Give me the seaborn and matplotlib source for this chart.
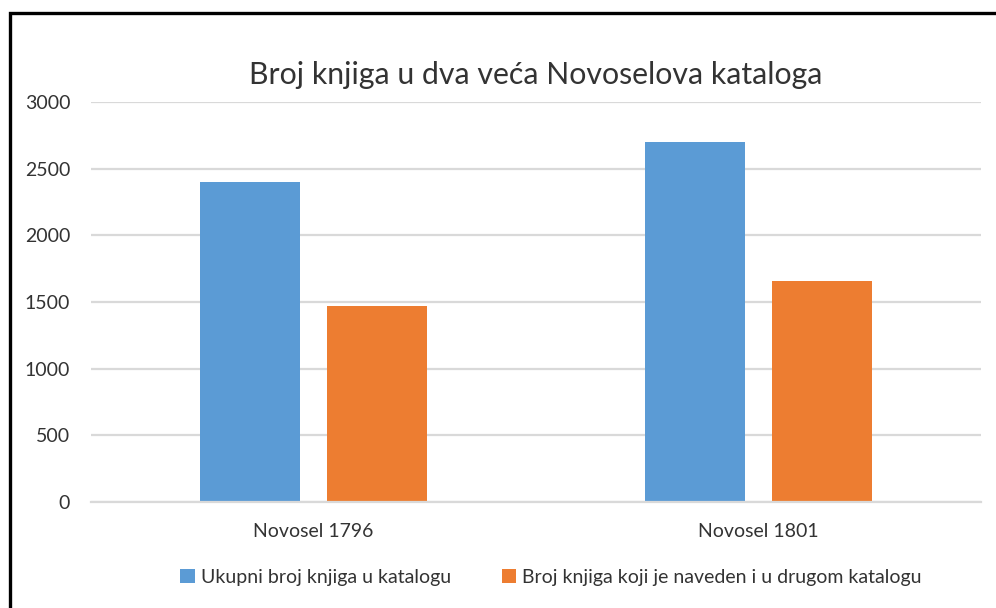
import numpy as np
import pandas as pd
import matplotlib
matplotlib.use('Agg')
import matplotlib.pyplot as plt
from matplotlib.patches import Rectangle
import seaborn as sns

# data
katalozi = ['Novosel 1796', 'Novosel 1801']
serije = ['Ukupni broj knjiga u katalogu', 'Broj knjiga koji je naveden i u drugom katalogu']
ukupno = [2400, 2700]
u_drugom = [1470, 1660]
boje = ['#5B9BD5', '#ED7D31']

df = pd.DataFrame({
    'katalog': katalozi * 2,
    'serija': [serije[0]] * 2 + [serije[1]] * 2,
    'broj': ukupno + u_drugom,
})

sns.set_style('white')
plt.rcParams['font.family'] = ['Lato', 'DejaVu Sans']
txt = '#333333'

fig = plt.figure(figsize=(9.96, 6.08), dpi=100)
ax = fig.add_axes([91 / 996, 1 - 502 / 608, 890 / 996, 400 / 608])

sns.barplot(data=df, x='katalog', y='broj', hue='serija', hue_order=serije,
            palette=boje, saturation=1, width=0.568, gap=0.21, linewidth=0,
            ax=ax, legend=True)

ax.set_ylim(0, 3000)
ax.set_xlim(-0.5, 1.5)
ax.set_yticks(np.arange(0, 3001, 500))
ax.yaxis.grid(True, color='#d9d9d9', linewidth=1.6)
ax.set_axisbelow(True)
for s in ['top', 'right', 'left']:
    ax.spines[s].set_visible(False)
ax.spines['bottom'].set_color('#d9d9d9')
ax.spines['bottom'].set_linewidth(1.6)
ax.tick_params(axis='both', length=0, labelsize=14, colors=txt)
ax.tick_params(axis='y', pad=15)
ax.tick_params(axis='x', pad=15)
ax.set_xlabel('')
ax.set_ylabel('')

ax.set_title('Broj knjiga u dva veća Novoselova kataloga', fontsize=21.8, color=txt, pad=13)

h, l = ax.get_legend_handles_labels()
ax.get_legend().remove()
fig.legend(h, l, loc='center', bbox_to_anchor=(551 / 996, 1 - 577 / 608), ncol=2,
           frameon=False, fontsize=14, labelcolor=txt, handlelength=0.75, handleheight=0.75,
           handletextpad=0.3, columnspacing=2.6)

# chart border
fig.add_artist(Rectangle((10 / 996, -0.05), 1.1, 1.05 - 13 / 608, transform=fig.transFigure,
                         fill=False, edgecolor='black', linewidth=2.4))

fig.savefig('out.png', dpi=100)
